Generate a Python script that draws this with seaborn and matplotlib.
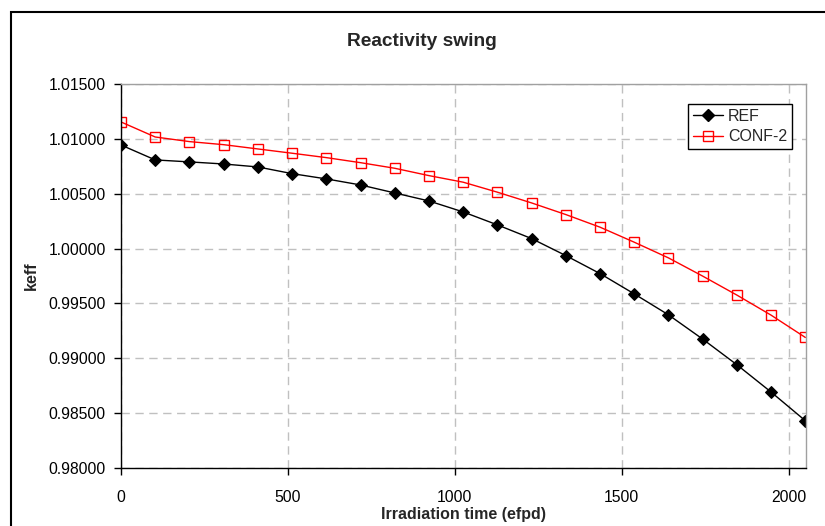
"""
Reactivity swing: keff vs irradiation time for REF and CONF-2
"""

# %% ---- Requirements and constants
import numpy as np
import pandas as pd
import seaborn as sns
import matplotlib.pyplot as plt
from matplotlib.patches import Rectangle

days = [0, 102.5, 205, 307.5, 410, 512.5, 615, 717.5, 820, 922.5, 1025,
        1127.5, 1230, 1332.5, 1435, 1537.5, 1640, 1742.5, 1845, 1947.5, 2050]

keff_ref = [1.00944, 1.00808, 1.00790, 1.00771, 1.00744, 1.00683, 1.00635,
            1.00580, 1.00507, 1.00434, 1.00334, 1.00216, 1.00091, 0.99936,
            0.99772, 0.99587, 0.99396, 0.99175, 0.98941, 0.98692, 0.98431]

keff_conf2 = [1.01154, 1.01017, 1.00975, 1.00947, 1.00908, 1.00869, 1.00829,
              1.00783, 1.00732, 1.00665, 1.00605, 1.00514, 1.00416, 1.00310,
              1.00195, 1.00058, 0.99915, 0.99749, 0.99576, 0.99393, 0.99190]

series_names = ['REF', 'CONF-2']
y_ticks = [0.980, 0.985, 0.990, 0.995, 1.000, 1.005, 1.010, 1.015]
x_ticks = [0, 500, 1000, 1500, 2000]

# %% ---- Build data
df = pd.DataFrame({
    'days': days * 2,
    'keff': keff_ref + keff_conf2,
    'config': [series_names[0]] * len(days) + [series_names[1]] * len(days),
})

# %% ---- Plot
sns.set_style('white')
plt.rcParams['font.family'] = ['Liberation Sans', 'DejaVu Sans']

fig = plt.figure(figsize=(8.25, 5.26), dpi=100)
ax = fig.add_axes([121 / 825, 1 - 468 / 526, (806 - 121) / 825, (468 - 84) / 526])

sns.lineplot(
    df, x='days', y='keff', hue='config', style='config',
    palette={'REF': 'black', 'CONF-2': '#ff0000'},
    markers={'REF': 'D', 'CONF-2': 's'},
    dashes=False, linewidth=1.0, ax=ax, legend=False)

# marker styling: filled diamonds, hollow squares
ms_ref, ms_conf = 6.3, 7.0
lines = ax.get_lines()
lines[0].set_markersize(ms_ref)
lines[0].set_markerfacecolor('black')
lines[0].set_markeredgecolor('black')
lines[1].set_markersize(ms_conf)
lines[1].set_markerfacecolor('none')
lines[1].set_markeredgecolor('#ff0000')
lines[1].set_markeredgewidth(1.0)

ax.set_xlim(0, 2052)
ax.set_ylim(0.980, 1.015)
ax.set_xticks(x_ticks)
ax.set_yticks(y_ticks)
ax.set_yticklabels([f'{v:.5f}' for v in y_ticks])
ax.tick_params(axis='both', labelsize=11.3, length=5, width=1,
               direction='out', colors='black', left=True, bottom=True)
ax.tick_params(axis='y', pad=6)
ax.tick_params(axis='x', pad=11)

ax.grid(True, color='#c0c0c0', linestyle=(0, (6, 4)), linewidth=1.0)
ax.set_axisbelow(True)
for side in ['left', 'bottom']:
    ax.spines[side].set_color('black')
    ax.spines[side].set_linewidth(1.0)
for side in ['top', 'right']:
    ax.spines[side].set_color('#a0a0a0')
    ax.spines[side].set_linewidth(1.0)

ax.set_xlabel('Irradiation time (efpd)', fontsize=11.5, fontweight='bold', labelpad=1)
ax.set_ylabel('keff', fontsize=11.5, fontweight='bold', labelpad=7)

fig.text(422 / 825, 1 - 42 / 526, 'Reactivity swing', fontsize=13.8,
         fontweight='bold', ha='center', va='center')

# legend
handles = [
    plt.Line2D([], [], color='black', marker='D', markersize=ms_ref, linewidth=1.0),
    plt.Line2D([], [], color='#ff0000', marker='s', markersize=ms_conf,
               markerfacecolor='none', linewidth=1.0),
]
leg = ax.legend(handles, series_names, loc='upper left',
                bbox_to_anchor=((688 - 121) / 685, 1 - (104 - 84) / 384),
                fontsize=11.5, frameon=True, fancybox=False, framealpha=1,
                edgecolor='black', handlelength=1.9, handletextpad=0.3,
                borderpad=0.3, labelspacing=0.35, borderaxespad=0)
leg.get_frame().set_linewidth(1.0)

# outer chart-area border (cropped on right and bottom)
fig.patches.append(Rectangle((11 / 825, -0.2), 1.2, 1 - 12 / 526 + 0.2,
                             transform=fig.transFigure, fill=False,
                             edgecolor='black', linewidth=1.5))

fig.savefig('out.png', dpi=100)
